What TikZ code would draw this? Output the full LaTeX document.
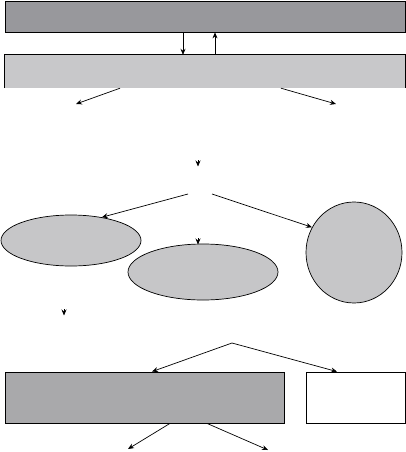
\documentclass[tikz,border=0pt]{standalone}
\usetikzlibrary{shapes.geometric,arrows.meta}
\definecolor{darkbar}{HTML}{98989C}
\definecolor{lightbar}{HTML}{C8C8CA}
\definecolor{ellfill}{HTML}{C6C6C8}
\definecolor{lowbar}{HTML}{A9A9AB}
\tikzset{
  box/.style={rectangle, draw=black, line width=0.8pt, inner sep=0pt},
  oval/.style={ellipse, draw=black, line width=0.7pt, fill=ellfill, inner sep=0pt},
  arr/.style={line width=0.7pt, -{Stealth[length=6pt,width=5pt]}},
}
\begin{document}
\begin{tikzpicture}[x=1pt,y=-1pt]
\useasboundingbox (0,0) rectangle (406,452);
% top bars
\node[box, fill=darkbar, minimum width=400pt, minimum height=31pt] (top) at (205,16.5) {};
\node[rectangle, draw=none, fill=lightbar, inner sep=0pt, minimum width=400pt, minimum height=33pt] (light) at (205,71.5) {};
\draw[line width=0.8pt] (light.south west) -- (light.north west) -- (light.north east) -- (light.south east);
\draw[arr] ([xshift=-22pt]top.south) -- ([xshift=-22pt]light.north);
\draw[arr] ([xshift=10pt]light.north) -- ([xshift=10pt]top.south);
\coordinate (t1) at (76,104);
\coordinate (t2) at (336,104);
\draw[arr] ([xshift=-85pt]light.south) -- (t1);
\draw[arr] ([xshift=76pt]light.south) -- (t2);
% lone arrowhead
\coordinate (a1s) at (198,160);
\coordinate (a1e) at (198,166.5);
\draw[arr] (a1s) -- (a1e);
% ellipses
\node[oval, minimum width=140pt, minimum height=51pt] (lel) at (71,240.5) {};
\node[oval, minimum width=150pt, minimum height=56pt] (mel) at (203,272) {};
\node[oval, minimum width=96pt, minimum height=101pt] (cir) at (354,252.5) {};
\coordinate (f1) at (188,194);
\coordinate (f2) at (212,194);
\draw[arr] (f1) -- (lel.37);
\draw[arr] (f2) -- (cir.149);
\coordinate (m1) at (198,238);
\draw[arr] (m1) -- (198,244.5);
% lone arrowhead 2
\coordinate (a2s) at (64,309);
\coordinate (a2e) at (64,315.5);
\draw[arr] (a2s) -- (a2e);
% bottom boxes
\node[box, fill=lowbar, minimum width=279pt, minimum height=51pt] (bdark) at (144.5,397.5) {};
\node[box, fill=white, minimum width=99pt, minimum height=51pt] (wbox) at (355.5,397.5) {};
\coordinate (fork) at (232,343);
\draw[arr] (fork) -- ([xshift=7.5pt]bdark.north);
\draw[arr] (fork) -- ([xshift=-18.5pt]wbox.north);
\coordinate (b1) at (128,449);
\coordinate (b2) at (268,450);
\draw[arr] ([xshift=25.5pt]bdark.south) -- (b1);
\draw[arr] ([xshift=62.5pt]bdark.south) -- (b2);
\end{tikzpicture}
\end{document}
